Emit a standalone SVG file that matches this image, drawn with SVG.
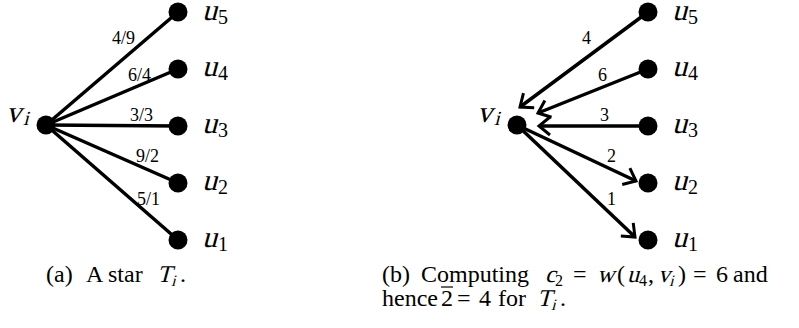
<svg xmlns="http://www.w3.org/2000/svg" width="799" height="328" viewBox="0 0 799 328">
<style>
text{font-family:"Liberation Serif","DejaVu Serif",serif}
.e{stroke:#000;stroke-width:3.5;fill:none}
.d{fill:#000}
.w{font-size:18px}
.c{font-size:24px}
.sb{font-size:16px}
.big{font-size:30px}
.sub{font-size:20px}
</style>
<defs>
<marker id="ar" markerUnits="userSpaceOnUse" markerWidth="30" markerHeight="30" viewBox="-15 -15 30 30" refX="0" refY="0" orient="auto">
<path d="M-11,-9 L0,0 L-11,9" fill="none" stroke="#000" stroke-width="3"/>
</marker>
</defs>
<g id="connectors">
<line class="e" x1="46" y1="125" x2="178" y2="12"/>
<line class="e" x1="46" y1="125" x2="178" y2="69"/>
<line class="e" x1="46" y1="125" x2="178" y2="126"/>
<line class="e" x1="46" y1="125" x2="178" y2="183"/>
<line class="e" x1="46" y1="125" x2="178" y2="240"/>
<line class="e" x1="648" y1="12" x2="520" y2="107" marker-end="url(#ar)"/>
<line class="e" x1="648" y1="69" x2="538" y2="113" marker-end="url(#ar)"/>
<line class="e" x1="648" y1="126" x2="539" y2="126" marker-end="url(#ar)"/>
<line class="e" x1="517" y1="125" x2="636" y2="181" marker-end="url(#ar)"/>
<line class="e" x1="517" y1="125" x2="635" y2="237" marker-end="url(#ar)"/>
</g>
<g id="edge-labels-a" class="w">
<text x="112" y="44">4/9</text>
<text x="128" y="81">6/4</text>
<text x="130" y="121">3/3</text>
<text x="136" y="162">9/2</text>
<text x="137" y="205">5/1</text>
</g>
<g id="edge-labels-b" class="w">
<text x="582" y="44">4</text>
<text x="598" y="81">6</text>
<text x="600" y="121">3</text>
<text x="607" y="162">2</text>
<text x="607" y="205">1</text>
</g>
<g id="a-vi"><circle class="d" cx="46" cy="125" r="9.5"/><text class="big" transform="translate(6,122) skewX(-15)">v</text><text class="sub" transform="translate(23,125) skewX(-15)">i</text></g>
<g id="a-u5"><circle class="d" cx="178" cy="12" r="9.5"/><text class="big" transform="translate(202,20) skewX(-15)">u</text><text class="sub" x="218" y="24">5</text></g>
<g id="a-u4"><circle class="d" cx="178" cy="69" r="9.5"/><text class="big" transform="translate(202,76) skewX(-15)">u</text><text class="sub" x="218" y="80">4</text></g>
<g id="a-u3"><circle class="d" cx="178" cy="126" r="9.5"/><text class="big" transform="translate(202,133) skewX(-15)">u</text><text class="sub" x="218" y="137">3</text></g>
<g id="a-u2"><circle class="d" cx="178" cy="183" r="9.5"/><text class="big" transform="translate(202,190) skewX(-15)">u</text><text class="sub" x="218" y="194">2</text></g>
<g id="a-u1"><circle class="d" cx="178" cy="240" r="9.5"/><text class="big" transform="translate(202,247) skewX(-15)">u</text><text class="sub" x="218" y="251">1</text></g>
<g id="b-vi"><circle class="d" cx="517" cy="125" r="9.5"/><text class="big" transform="translate(477,122) skewX(-15)">v</text><text class="sub" transform="translate(494,125) skewX(-15)">i</text></g>
<g id="b-u5"><circle class="d" cx="648" cy="12" r="9.5"/><text class="big" transform="translate(672,20) skewX(-15)">u</text><text class="sub" x="688" y="24">5</text></g>
<g id="b-u4"><circle class="d" cx="648" cy="69" r="9.5"/><text class="big" transform="translate(672,76) skewX(-15)">u</text><text class="sub" x="688" y="80">4</text></g>
<g id="b-u3"><circle class="d" cx="648" cy="126" r="9.5"/><text class="big" transform="translate(672,133) skewX(-15)">u</text><text class="sub" x="688" y="137">3</text></g>
<g id="b-u2"><circle class="d" cx="648" cy="183" r="9.5"/><text class="big" transform="translate(672,190) skewX(-15)">u</text><text class="sub" x="688" y="194">2</text></g>
<g id="b-u1"><circle class="d" cx="648" cy="240" r="9.5"/><text class="big" transform="translate(672,247) skewX(-15)">u</text><text class="sub" x="688" y="251">1</text></g>
<g id="caption-a" class="c">
<text y="282"><tspan x="46">(a)</tspan><tspan x="86">A</tspan><tspan x="108">star</tspan></text>
<text transform="translate(157,282) skewX(-15)">T</text>
<text class="sb" transform="translate(171,286) skewX(-15)">i</text>
<text x="180" y="282">.</text>
</g>
<g id="caption-b" class="c">
<text y="282"><tspan x="382">(b)</tspan><tspan x="421">Computing</tspan><tspan x="573">=</tspan><tspan x="617">(</tspan><tspan x="648">,</tspan><tspan x="678">)</tspan><tspan x="693">=</tspan><tspan x="716">6</tspan><tspan x="733">and</tspan></text>
<text transform="translate(545,282) skewX(-15)">c</text>
<text class="sb" x="555" y="286">2</text>
<text transform="translate(597,282) skewX(-15)">w</text>
<text transform="translate(627,282) skewX(-15)">u</text>
<text class="sb" x="639" y="286">4</text>
<text transform="translate(658,282) skewX(-15)">v</text>
<text class="sb" transform="translate(669,286) skewX(-15)">i</text>
<text y="306"><tspan x="382">hence</tspan><tspan x="441">2</tspan><tspan x="457">=</tspan><tspan x="479">4</tspan><tspan x="498">for</tspan></text>
<text transform="translate(537,306) skewX(-15)">T</text>
<text class="sb" transform="translate(551,310) skewX(-15)">i</text>
<text x="560" y="306">.</text>
<line x1="441" y1="287" x2="453" y2="287" stroke="#000" stroke-width="1.2"/>
</g>
</svg>
